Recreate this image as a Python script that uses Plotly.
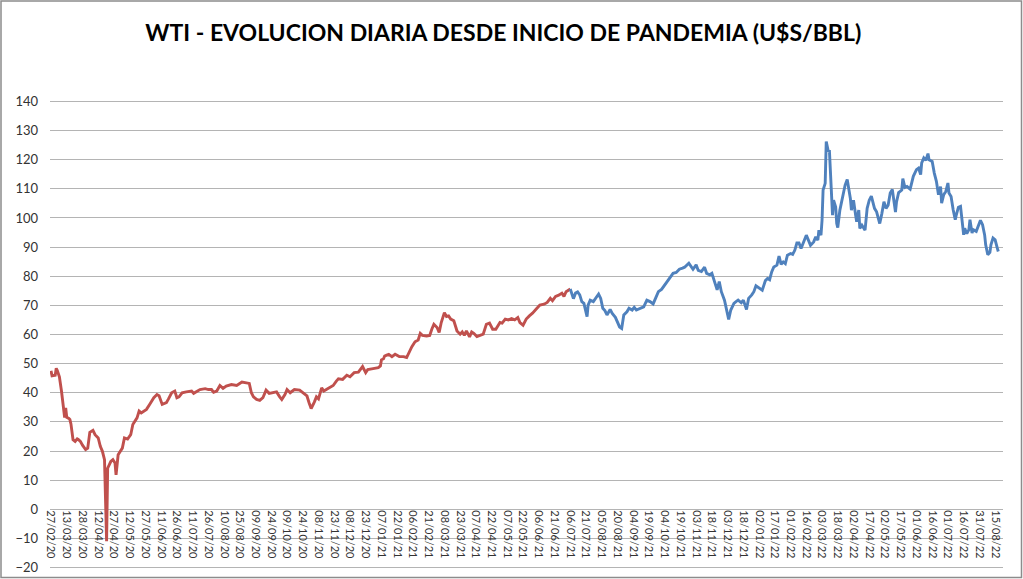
import plotly.graph_objects as go

# ---- data (date, U$S/BBL) ----
red_dates = [
 "2020-02-27","2020-02-28","2020-03-02","2020-03-03","2020-03-04","2020-03-06","2020-03-08","2020-03-10",
 "2020-03-11","2020-03-12","2020-03-13","2020-03-15","2020-03-16","2020-03-17","2020-03-18","2020-03-19",
 "2020-03-21","2020-03-23","2020-03-24","2020-03-26","2020-03-28","2020-03-29","2020-03-31",
 "2020-04-02","2020-04-04","2020-04-07","2020-04-09","2020-04-12","2020-04-14","2020-04-16","2020-04-17",
 "2020-04-18","2020-04-20","2020-04-21","2020-04-24","2020-04-26","2020-04-28","2020-04-29",
 "2020-05-01","2020-05-03","2020-05-05","2020-05-07","2020-05-10","2020-05-13","2020-05-15","2020-05-19",
 "2020-05-21","2020-05-23","2020-05-26","2020-05-28","2020-05-31",
 "2020-06-04","2020-06-07","2020-06-09","2020-06-12","2020-06-16","2020-06-18","2020-06-21","2020-06-24",
 "2020-06-26","2020-06-28",
 "2020-07-01","2020-07-05","2020-07-10","2020-07-12","2020-07-15","2020-07-18","2020-07-23","2020-07-26",
 "2020-07-29","2020-07-31",
 "2020-08-03","2020-08-06","2020-08-09","2020-08-12","2020-08-17","2020-08-22","2020-08-27","2020-08-30",
 "2020-09-03","2020-09-05","2020-09-07","2020-09-10","2020-09-13","2020-09-16","2020-09-19","2020-09-22",
 "2020-09-26","2020-09-29",
 "2020-10-02","2020-10-04","2020-10-07","2020-10-09","2020-10-12","2020-10-16","2020-10-21","2020-10-24",
 "2020-10-28","2020-10-30",
 "2020-11-01","2020-11-04","2020-11-06","2020-11-08","2020-11-11","2020-11-13","2020-11-17","2020-11-22",
 "2020-11-25","2020-11-27",
 "2020-12-01","2020-12-05","2020-12-08","2020-12-12","2020-12-16","2020-12-20","2020-12-23","2020-12-25",
 "2020-12-30",
 "2021-01-04","2021-01-06","2021-01-07","2021-01-09","2021-01-10","2021-01-12","2021-01-14","2021-01-17",
 "2021-01-20","2021-01-24","2021-01-28","2021-01-31",
 "2021-02-03","2021-02-05","2021-02-08","2021-02-11","2021-02-13","2021-02-15","2021-02-19","2021-02-22",
 "2021-02-24","2021-02-26",
 "2021-03-01","2021-03-03","2021-03-05","2021-03-08","2021-03-10","2021-03-12","2021-03-14","2021-03-17",
 "2021-03-19","2021-03-20","2021-03-23","2021-03-25","2021-03-27","2021-03-29",
 "2021-04-01","2021-04-03","2021-04-05","2021-04-08","2021-04-11","2021-04-14","2021-04-17","2021-04-20",
 "2021-04-23","2021-04-26","2021-04-30",
 "2021-05-02","2021-05-05","2021-05-08","2021-05-11","2021-05-14","2021-05-17","2021-05-19","2021-05-22",
 "2021-05-25","2021-05-28","2021-05-31",
 "2021-06-04","2021-06-07","2021-06-11","2021-06-14","2021-06-17","2021-06-19","2021-06-22","2021-06-25",
 "2021-06-28","2021-06-30",
 "2021-07-02","2021-07-04","2021-07-06",
]
red_values = [
 47.5,45.8,46.0,48.4,47.6,45.5,40.5,33.0,
 31.5,34.8,31.6,31.2,30.8,29.3,26.0,23.9,
 23.3,24.2,24.0,23.3,22.0,21.4,20.5,
 21.0,26.4,27.1,25.6,24.5,21.6,19.9,18.2,
 17.0,-11.0,14.1,16.4,17.0,15.9,11.8,
 18.7,19.9,21.0,24.5,24.1,25.6,29.1,31.4,
 33.7,33.1,33.7,34.3,36.0,
 38.3,39.4,39.0,36.0,36.6,37.9,40.0,40.6,
 38.3,38.6,
 40.0,40.3,40.6,39.8,40.6,41.1,41.4,41.1,
 41.1,40.2,
 40.6,42.5,41.5,42.3,42.8,42.5,43.7,43.4,
 43.2,40.0,38.6,37.7,37.4,38.3,40.9,39.8,
 40.2,40.3,
 38.6,37.7,39.4,41.1,40.0,41.1,40.9,40.0,
 38.9,36.6,
 34.6,36.8,38.6,37.9,41.7,40.6,41.4,42.5,
 44.0,44.8,
 44.6,46.0,45.5,46.9,47.1,49.0,46.9,48.0,
 48.3,
 48.6,49.2,51.3,51.7,52.6,52.9,53.2,52.4,
 53.2,52.4,52.4,52.1,
 54.4,55.8,57.5,58.1,60.4,59.7,59.5,59.7,
 61.8,63.5,
 62.4,60.7,64.1,67.5,66.2,66.4,65.3,64.7,
 62.4,61.2,60.1,60.9,59.7,61.2,
 59.2,60.9,60.4,59.3,59.7,60.1,63.5,63.9,
 61.8,61.8,64.1,
 63.9,65.3,65.0,65.5,65.0,65.8,64.1,63.2,
 65.3,66.4,67.3,
 68.9,70.1,70.4,71.0,72.4,71.6,73.1,73.5,
 74.2,73.1,
 74.7,75.3,75.6,
]

blue_dates = [
 "2021-07-06","2021-07-09","2021-07-11","2021-07-13","2021-07-15","2021-07-17","2021-07-19","2021-07-22",
 "2021-07-23","2021-07-25","2021-07-28","2021-07-31",
 "2021-08-02","2021-08-04","2021-08-06","2021-08-08","2021-08-10","2021-08-13","2021-08-15","2021-08-18",
 "2021-08-21","2021-08-22","2021-08-24","2021-08-26","2021-08-29","2021-08-31",
 "2021-09-03","2021-09-05","2021-09-07","2021-09-11","2021-09-14","2021-09-17","2021-09-20","2021-09-23",
 "2021-09-25","2021-09-28",
 "2021-10-01","2021-10-04","2021-10-07","2021-10-09","2021-10-12","2021-10-15","2021-10-18","2021-10-21",
 "2021-10-23","2021-10-27","2021-10-29","2021-10-31",
 "2021-11-03","2021-11-05","2021-11-08","2021-11-11","2021-11-13","2021-11-16","2021-11-18","2021-11-20",
 "2021-11-23","2021-11-25","2021-11-27","2021-11-30",
 "2021-12-02","2021-12-04","2021-12-06","2021-12-09","2021-12-11","2021-12-13","2021-12-16","2021-12-18",
 "2021-12-21","2021-12-23","2021-12-26","2021-12-28","2021-12-30",
 "2022-01-02","2022-01-05","2022-01-08","2022-01-10","2022-01-12","2022-01-14","2022-01-16","2022-01-19",
 "2022-01-21","2022-01-23","2022-01-25","2022-01-27","2022-01-29",
 "2022-02-01","2022-02-03","2022-02-05","2022-02-07","2022-02-09","2022-02-11","2022-02-14","2022-02-16",
 "2022-02-18","2022-02-20","2022-02-23","2022-02-25","2022-02-27","2022-02-28",
 "2022-03-02","2022-03-03","2022-03-04","2022-03-06","2022-03-07","2022-03-09","2022-03-10","2022-03-11",
 "2022-03-12","2022-03-13","2022-03-14","2022-03-16","2022-03-17","2022-03-18","2022-03-20","2022-03-23",
 "2022-03-25","2022-03-27","2022-03-28","2022-03-30","2022-03-31",
 "2022-04-02","2022-04-04","2022-04-05","2022-04-07","2022-04-08","2022-04-10","2022-04-11","2022-04-13",
 "2022-04-15","2022-04-17","2022-04-19","2022-04-22","2022-04-24","2022-04-27","2022-04-29",
 "2022-05-01","2022-05-03","2022-05-05","2022-05-07","2022-05-09","2022-05-12","2022-05-13","2022-05-15",
 "2022-05-18","2022-05-19","2022-05-21","2022-05-23","2022-05-26","2022-05-29",
 "2022-06-01","2022-06-03","2022-06-05","2022-06-06","2022-06-08","2022-06-10","2022-06-12","2022-06-13",
 "2022-06-16","2022-06-18","2022-06-20","2022-06-22","2022-06-24","2022-06-25","2022-06-27","2022-06-29",
 "2022-07-01","2022-07-02","2022-07-04","2022-07-06","2022-07-08","2022-07-09","2022-07-11","2022-07-13",
 "2022-07-14","2022-07-16","2022-07-17","2022-07-19","2022-07-21","2022-07-22","2022-07-24","2022-07-25",
 "2022-07-28","2022-07-30",
 "2022-08-01","2022-08-03","2022-08-05","2022-08-06","2022-08-08","2022-08-10","2022-08-11","2022-08-13",
 "2022-08-15","2022-08-17","2022-08-18",
]
blue_values = [
 75.6,72.3,74.2,74.6,73.6,71.3,70.7,66.1,
 70.1,71.8,71.3,73.0,
 73.9,72.4,69.0,68.2,66.7,68.6,67.2,65.9,
 63.6,62.6,62.1,66.7,67.8,69.0,
 68.4,69.3,68.4,69.0,69.5,71.8,71.3,70.5,
 72.4,74.7,
 75.5,77.0,78.7,79.3,81.0,81.3,82.4,82.8,
 83.1,84.5,83.6,82.4,
 83.9,82.0,81.6,83.1,81.0,80.5,81.0,78.7,
 75.3,78.2,74.7,71.8,
 68.4,65.2,68.4,70.7,71.3,71.8,70.9,71.8,
 68.6,72.4,73.6,74.7,76.7,
 76.0,75.2,78.5,79.2,78.8,81.5,83.2,83.8,
 86.9,84.1,84.9,84.3,87.2,
 87.8,87.5,88.9,91.4,91.4,89.5,92.4,94.1,
 92.4,90.6,91.8,93.5,92.4,95.8,
 94.1,99.2,109.6,111.9,126.2,122.8,123.3,115.3,
 109.6,101.0,106.1,103.8,98.1,96.7,102.7,107.8,
 111.3,113.2,111.3,106.7,102.7,
 106.1,101.0,98.7,102.7,96.4,97.5,96.9,95.8,
 103.3,106.1,107.5,103.3,102.1,98.1,101.5,
 105.6,103.3,104.4,108.6,109.8,102.0,105.5,108.7,
 109.6,113.5,110.5,110.8,109.9,114.3,
 116.6,117.1,114.9,118.9,120.6,119.8,122.1,120.0,
 119.4,115.4,112.6,108.0,110.8,105.1,108.0,109.1,
 112.0,108.6,107.4,102.8,99.4,101.1,103.7,104.0,
 100.5,94.2,96.5,94.6,96.0,99.4,94.8,96.0,
 95.4,97.1,
 99.2,97.7,94.2,90.8,87.4,88.2,90.8,93.1,
 92.5,89.7,88.5,
]

title_text = "WTI - EVOLUCION DIARIA DESDE INICIO DE PANDEMIA (U$S/BBL)"
first_tick = "2020-02-27"
tick_step_days = 15
y_range = [-20.5, 140.5]
y_step = 10

RED = "#C0504D"
BLUE = "#4F81BD"
GRID = "#B4B4B4"
TEXT = "#333333"

W, H = 1023, 579
ML, MR, MT, MB = 50, 20, 100, 10
pw, ph = W - ML - MR, H - MT - MB

fig = go.Figure()
fig.add_trace(go.Scatter(x=red_dates, y=red_values, mode="lines",
                         line=dict(color=RED, width=2.9), showlegend=False, hoverinfo="x+y"))
fig.add_trace(go.Scatter(x=blue_dates, y=blue_values, mode="lines",
                         line=dict(color=BLUE, width=2.9), showlegend=False, hoverinfo="x+y"))

zero_pos = (0 - y_range[0]) / (y_range[1] - y_range[0])

fig.update_layout(
    width=W, height=H,
    margin=dict(l=ML, r=MR, t=MT, b=MB, pad=0, autoexpand=False),
    paper_bgcolor="white", plot_bgcolor="white",
    title=dict(text="<b>" + title_text + "</b>", x=0.492, xanchor="center",
               y=0.943, yanchor="middle", yref="container",
               font=dict(family="Lato, Open Sans, sans-serif", size=23, color="black")),
    xaxis=dict(
        type="date",
        range=["2020-02-26 01:00", "2022-08-22 12:00"],
        tick0=first_tick, dtick=tick_step_days * 86400000,
        tickformat="%d/%m/%y", tickangle=90,
        tickfont=dict(family="Lato, Open Sans, sans-serif", size=11, color=TEXT),
        showgrid=False, zeroline=False,
        showline=False, ticks="",
        anchor="free", position=zero_pos, automargin=False,
    ),
    yaxis=dict(
        range=y_range, dtick=y_step, tick0=0,
        showgrid=True, gridcolor=GRID, gridwidth=1,
        zeroline=True, zerolinecolor=GRID, zerolinewidth=1,
        showline=False, ticks="", automargin=False,
        ticklabelstandoff=11,
        tickfont=dict(family="Lato, Open Sans, sans-serif", size=13, color=TEXT),
    ),
)

# outer chart frame
fig.add_shape(type="rect", xref="paper", yref="paper",
              x0=(-ML + 1) / pw, x1=1 + (MR - 1.5) / pw,
              y0=(-MB + 1.5) / ph, y1=1 + (MT - 1) / ph,
              line=dict(color="#8C8C8C", width=1.5), fillcolor="rgba(0,0,0,0)", layer="above")

fig.write_html("out.html",
               config={"displayModeBar": False},
               post_script="document.body.style.margin='0px';document.body.style.overflow='hidden';")
